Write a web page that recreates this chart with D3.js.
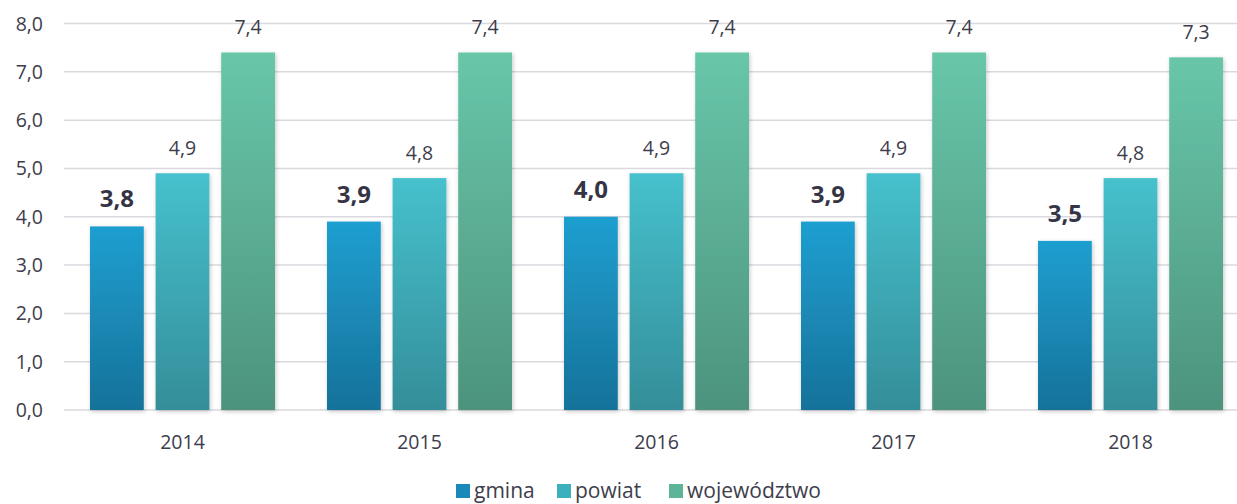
<!DOCTYPE html>
<html><head><meta charset="utf-8">
<script src="https://cdn.jsdelivr.net/npm/d3@7/dist/d3.min.js"></script>
<style>body{margin:0;background:#fff;overflow:hidden}svg{display:block;font-family:"Open Sans",sans-serif}</style>
</head><body><svg id="c" width="1237" height="504"></svg>
<script>
const years = ["2014","2015","2016","2017","2018"];
const seriesNames = ["gmina","powiat","województwo"];
const gmina = [3.8,3.9,4.0,3.9,3.5];
const powiat = [4.9,4.8,4.9,4.9,4.8];
const wojewodztwo = [7.4,7.4,7.4,7.4,7.3];
const yTicks = [0,1,2,3,4,5,6,7,8];

const seriesValues = [gmina, powiat, wojewodztwo];
const gradStops = [["#1f9fd0","#16729a"],["#46c1cd","#348e99"],["#68c6a9","#4d937e"]];
const legendColors = ["#1a88b8","#3db0bd","#5db497"];

const svg = d3.select("#c");
const x = d3.scaleBand().domain(years).range([64,1249]);
const y = d3.scaleLinear().domain([0,8]).range([410,23.5]);
const inner = d3.scaleBand().domain(seriesNames).range([-92.5,92.5]).paddingInner(0.18);

const defs = svg.append("defs");
gradStops.forEach((s,i)=>{
  const g = defs.append("linearGradient").attr("id","g"+i).attr("x1",0).attr("y1",0).attr("x2",0).attr("y2",1);
  g.append("stop").attr("offset","0%").attr("stop-color",s[0]);
  g.append("stop").attr("offset","100%").attr("stop-color",s[1]);
});
const f = defs.append("filter").attr("id","sh").attr("x","-20%").attr("y","-5%").attr("width","140%").attr("height","110%");
f.append("feDropShadow").attr("dx",1).attr("dy",1.5).attr("stdDeviation",2).attr("flood-color","#000").attr("flood-opacity",0.22);

// grid
svg.append("g").selectAll("line").data(yTicks).join("line")
  .attr("x1",64).attr("x2",1237).attr("y1",d=>y(d)).attr("y2",d=>y(d))
  .attr("stroke","#d9d9df").attr("stroke-width",1.5);

// y labels
svg.append("g").selectAll("text").data(yTicks).join("text")
  .attr("x",43).attr("y",d=>y(d)).attr("dy","0.36em").attr("text-anchor","end")
  .attr("font-size",19.5).attr("fill","#3d3d4b")
  .text(d=>d3.format(".1f")(d).replace(".",","));

// x labels
svg.append("g").selectAll("text").data(years).join("text")
  .attr("x",d=>x(d)+x.bandwidth()/2).attr("y",449).attr("text-anchor","middle")
  .attr("font-size",19.5).attr("fill","#3d3d4b").text(d=>d);

// bars
seriesNames.forEach((s,si)=>{
  const data = years.map((yr,i)=>({yr, v:seriesValues[si][i]}));
  const g = svg.append("g");
  g.selectAll("rect").data(data).join("rect")
    .attr("x",d=>x(d.yr)+x.bandwidth()/2+inner(s))
    .attr("y",d=>y(d.v)).attr("width",inner.bandwidth()).attr("height",d=>y(0)-y(d.v))
    .attr("fill","url(#g"+si+")").attr("filter","url(#sh)");
  g.selectAll("text").data(data).join("text")
    .attr("x",d=>x(d.yr)+x.bandwidth()/2+inner(s)+inner.bandwidth()/2)
    .attr("y",d=>y(d.v)-(si===0?19:18))
    .attr("text-anchor","middle")
    .attr("font-size",si===0?24:19.5).attr("font-weight",si===0?"bold":"normal")
    .attr("fill",si===0?"#343444":"#3d3d4b")
    .text(d=>d3.format(".1f")(d.v).replace(".",","));
});

// legend
const legX = [456,557,669];
const lg = svg.append("g");
seriesNames.forEach((s,i)=>{
  lg.append("rect").attr("x",legX[i]).attr("y",484).attr("width",14).attr("height",14).attr("fill",legendColors[i]);
  lg.append("text").attr("x",legX[i]+18).attr("y",498).attr("font-size",21).attr("fill","#3d3d4b").text(s);
});
</script></body></html>
